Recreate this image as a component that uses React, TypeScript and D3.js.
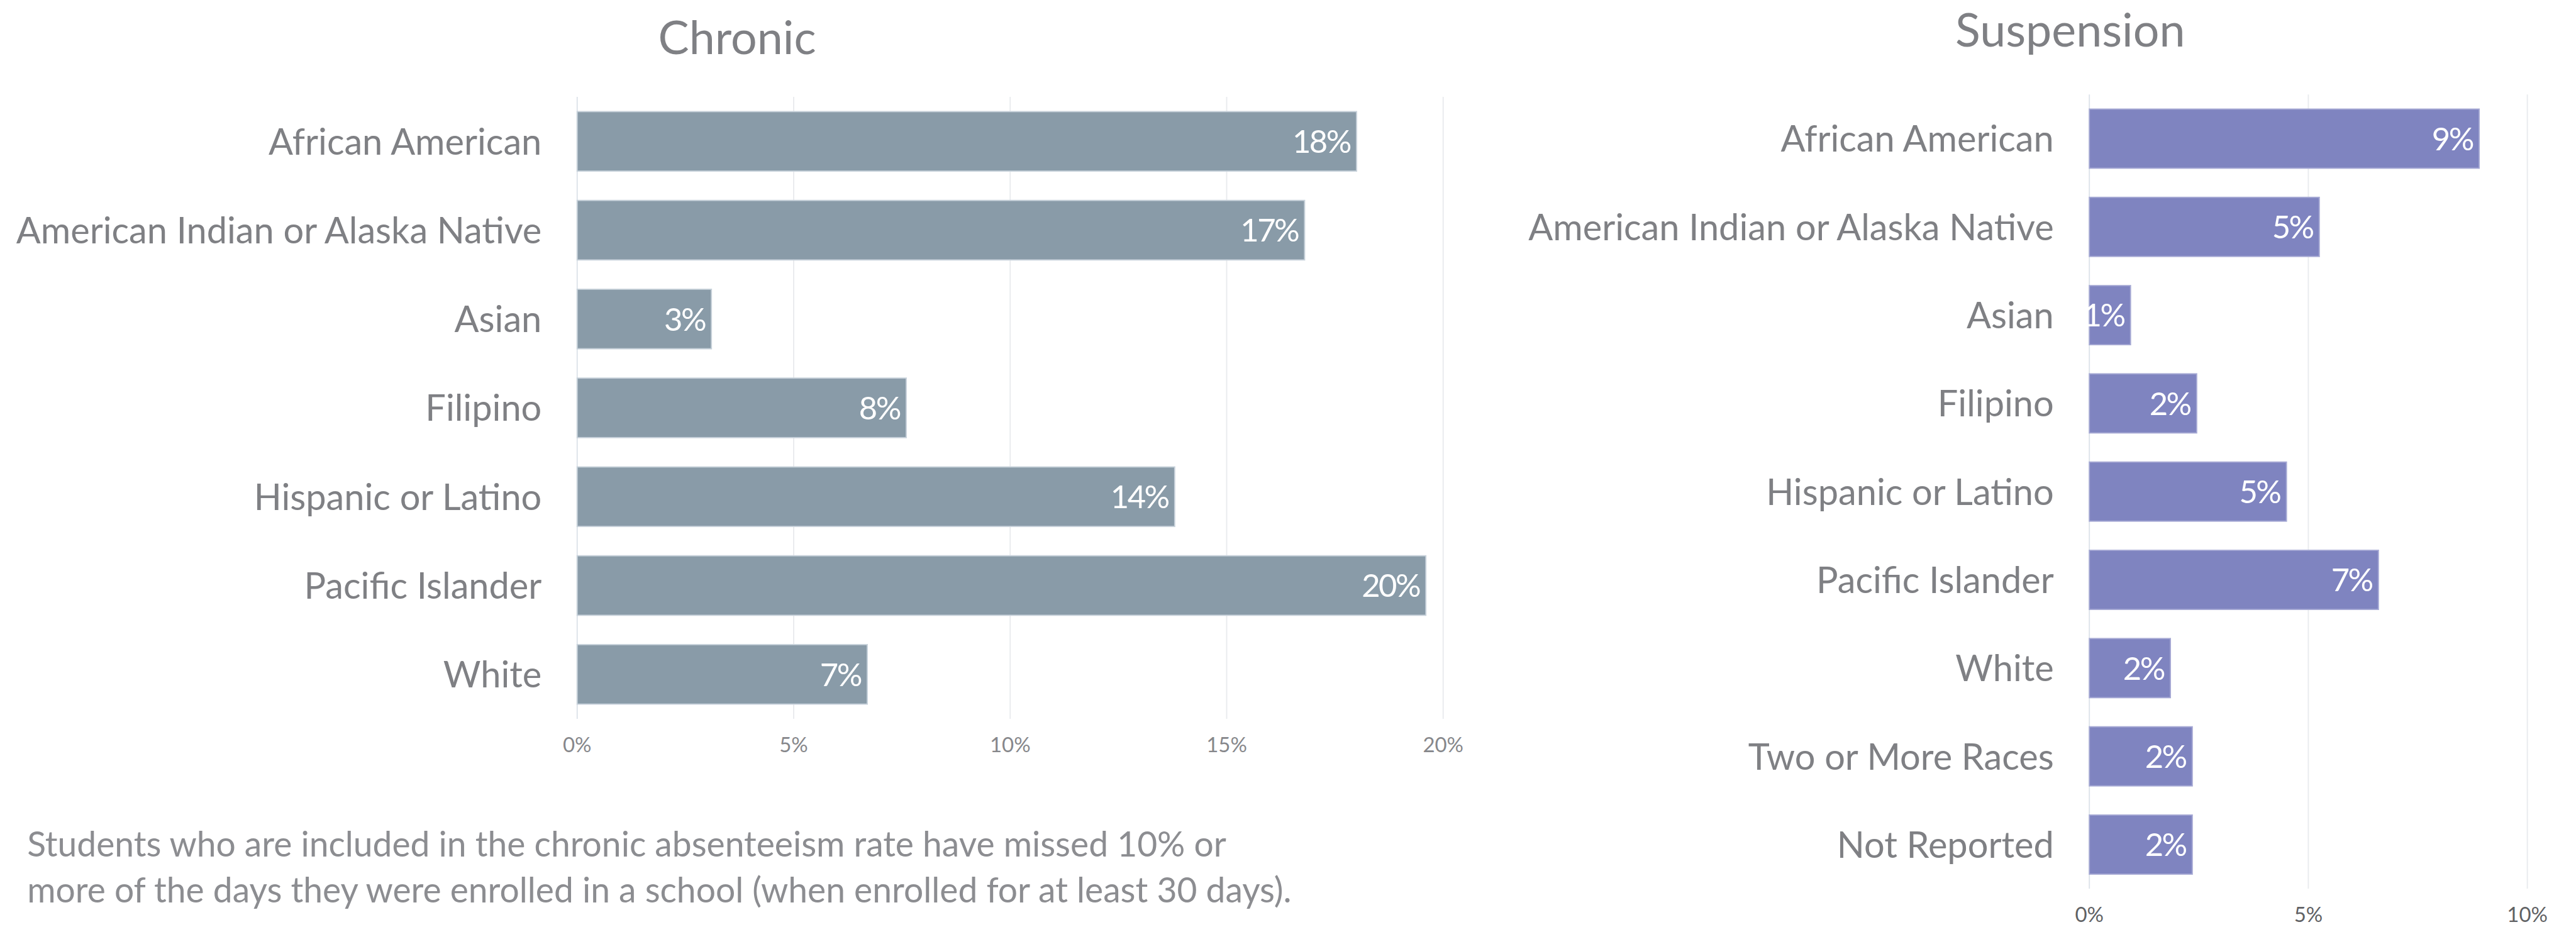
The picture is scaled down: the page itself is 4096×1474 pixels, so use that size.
import * as d3 from "d3";
import { useEffect, useRef } from "react";

// Chronic absenteeism rate by race (percent)
const chronicCategories: string[] = [
  "African American",
  "American Indian or Alaska Native",
  "Asian",
  "Filipino",
  "Hispanic or Latino",
  "Pacific Islander",
  "White",
];
const chronicValues: number[] = [18.0, 16.8, 3.1, 7.6, 13.8, 19.6, 6.7];
const chronicLabels: string[] = ["18%", "17%", "3%", "8%", "14%", "20%", "7%"];
const chronicTicks: number[] = [0, 5, 10, 15, 20];

// Suspension rate by race (percent)
const suspensionCategories: string[] = [
  "African American",
  "American Indian or Alaska Native",
  "Asian",
  "Filipino",
  "Hispanic or Latino",
  "Pacific Islander",
  "White",
  "Two or More Races",
  "Not Reported",
];
const suspensionValues: number[] = [8.9, 5.25, 0.94, 2.45, 4.5, 6.6, 1.85, 2.35, 2.35];
const suspensionLabels: string[] = ["9%", "5%", "1%", "2%", "5%", "7%", "2%", "2%", "2%"];
const suspensionTicks: number[] = [0, 5, 10];

const footnoteLines: string[] = [
  "Students who are included in the chronic absenteeism rate have missed 10% or",
  "more of the days they were enrolled in a school (when enrolled for at least 30 days).",
];

// reference size; the svg is scaled down to the window through its viewBox
const fullWidth = 6458;
const fullHeight = 2324;
const font = "Lato, 'Open Sans', sans-serif";

interface PanelOpts {
  title: string;
  titleX: number;
  titleY: number;
  categories: string[];
  values: number[];
  labels: string[];
  ticks: number[];
  xRange: [number, number];
  yRange: [number, number];
  fill: string;
  stroke: string;
  tickColor: string;
  tickY: number;
}

function drawPanel(svg: d3.Selection<SVGSVGElement, unknown, null, undefined>, o: PanelOpts) {
  const g = svg.append("g");

  const x = d3
    .scaleLinear()
    .domain([o.ticks[0], o.ticks[o.ticks.length - 1]])
    .range(o.xRange);

  const y = d3
    .scaleBand()
    .domain(o.categories)
    .range(o.yRange)
    .paddingInner(0.33)
    .paddingOuter(0.165);

  // gridlines
  g.append("g")
    .selectAll("line")
    .data(o.ticks)
    .enter()
    .append("line")
    .attr("x1", (d) => x(d))
    .attr("x2", (d) => x(d))
    .attr("y1", o.yRange[0])
    .attr("y2", o.yRange[1])
    .attr("stroke", (d) => (d === 0 ? "#dde3ea" : "#e9ebee"))
    .attr("stroke-width", 3);

  // tick labels
  g.append("g")
    .selectAll("text")
    .data(o.ticks)
    .enter()
    .append("text")
    .attr("x", (d) => x(d))
    .attr("y", o.tickY)
    .attr("text-anchor", "middle")
    .attr("font-family", font)
    .attr("font-size", 52)
    .attr("fill", o.tickColor)
    .text((d) => `${d}%`);

  // bars
  g.append("g")
    .selectAll("rect")
    .data(o.values)
    .enter()
    .append("rect")
    .attr("x", x(0))
    .attr("y", (_, i) => y(o.categories[i])!)
    .attr("width", (d) => x(d) - x(0))
    .attr("height", y.bandwidth())
    .attr("fill", o.fill)
    .attr("stroke", o.stroke)
    .attr("stroke-width", 3);

  // value labels inside bars
  g.append("g")
    .selectAll("text")
    .data(o.values)
    .enter()
    .append("text")
    .attr("x", (d) => x(d) - 16)
    .attr("y", (_, i) => y(o.categories[i])! + y.bandwidth() / 2 + 29)
    .attr("text-anchor", "end")
    .attr("font-family", font)
    .attr("font-size", 80)
    .attr("letter-spacing", -4)
    .attr("fill", "#ffffff")
    .text((_, i) => o.labels[i]);

  // category labels
  g.append("g")
    .selectAll("text")
    .data(o.categories)
    .enter()
    .append("text")
    .attr("x", x(0) - 89)
    .attr("y", (d) => y(d)! + y.bandwidth() / 2 + 33)
    .attr("text-anchor", "end")
    .attr("font-family", font)
    .attr("font-size", 91)
    .attr("fill", "#7f8084")
    .text((d) => d);

  // title
  g.append("text")
    .attr("x", o.titleX)
    .attr("y", o.titleY)
    .attr("text-anchor", "middle")
    .attr("font-family", font)
    .attr("font-size", 116)
    .attr("fill", "#7f8084")
    .text(o.title);
}

export default function App() {
  const svgRef = useRef<SVGSVGElement>(null);

  useEffect(() => {
    const svg = d3.select(svgRef.current!) as d3.Selection<SVGSVGElement, unknown, null, undefined>;
    svg.selectAll("*").remove();

    drawPanel(svg, {
      title: "Chronic",
      titleX: 1848,
      titleY: 135,
      categories: chronicCategories,
      values: chronicValues,
      labels: chronicLabels,
      ticks: chronicTicks,
      xRange: [1447, 3618],
      yRange: [243, 1802],
      fill: "#899ba8",
      stroke: "#c8d2db",
      tickColor: "#86878b",
      tickY: 1886,
    });

    drawPanel(svg, {
      title: "Suspension",
      titleX: 5190,
      titleY: 116,
      categories: suspensionCategories,
      values: suspensionValues,
      labels: suspensionLabels,
      ticks: suspensionTicks,
      xRange: [5238, 6336],
      yRange: [237, 2228],
      fill: "#7f84c0",
      stroke: "#a6a9d4",
      tickColor: "#606164",
      tickY: 2311,
    });

    // footnote
    svg
      .append("g")
      .selectAll("text")
      .data(footnoteLines)
      .enter()
      .append("text")
      .attr("x", 68)
      .attr("y", (_, i) => 2147 + i * 115)
      .attr("font-family", font)
      .attr("font-size", 87)
      .attr("fill", "#8c8d91")
      .text((d) => d);
  }, []);

  return (
    <svg
      ref={svgRef}
      width={4096}
      height={1474}
      viewBox={`0 0 ${fullWidth} ${fullHeight}`}
      style={{ position: "absolute", left: 0, top: 0, background: "#ffffff" }}
    />
  );
}
